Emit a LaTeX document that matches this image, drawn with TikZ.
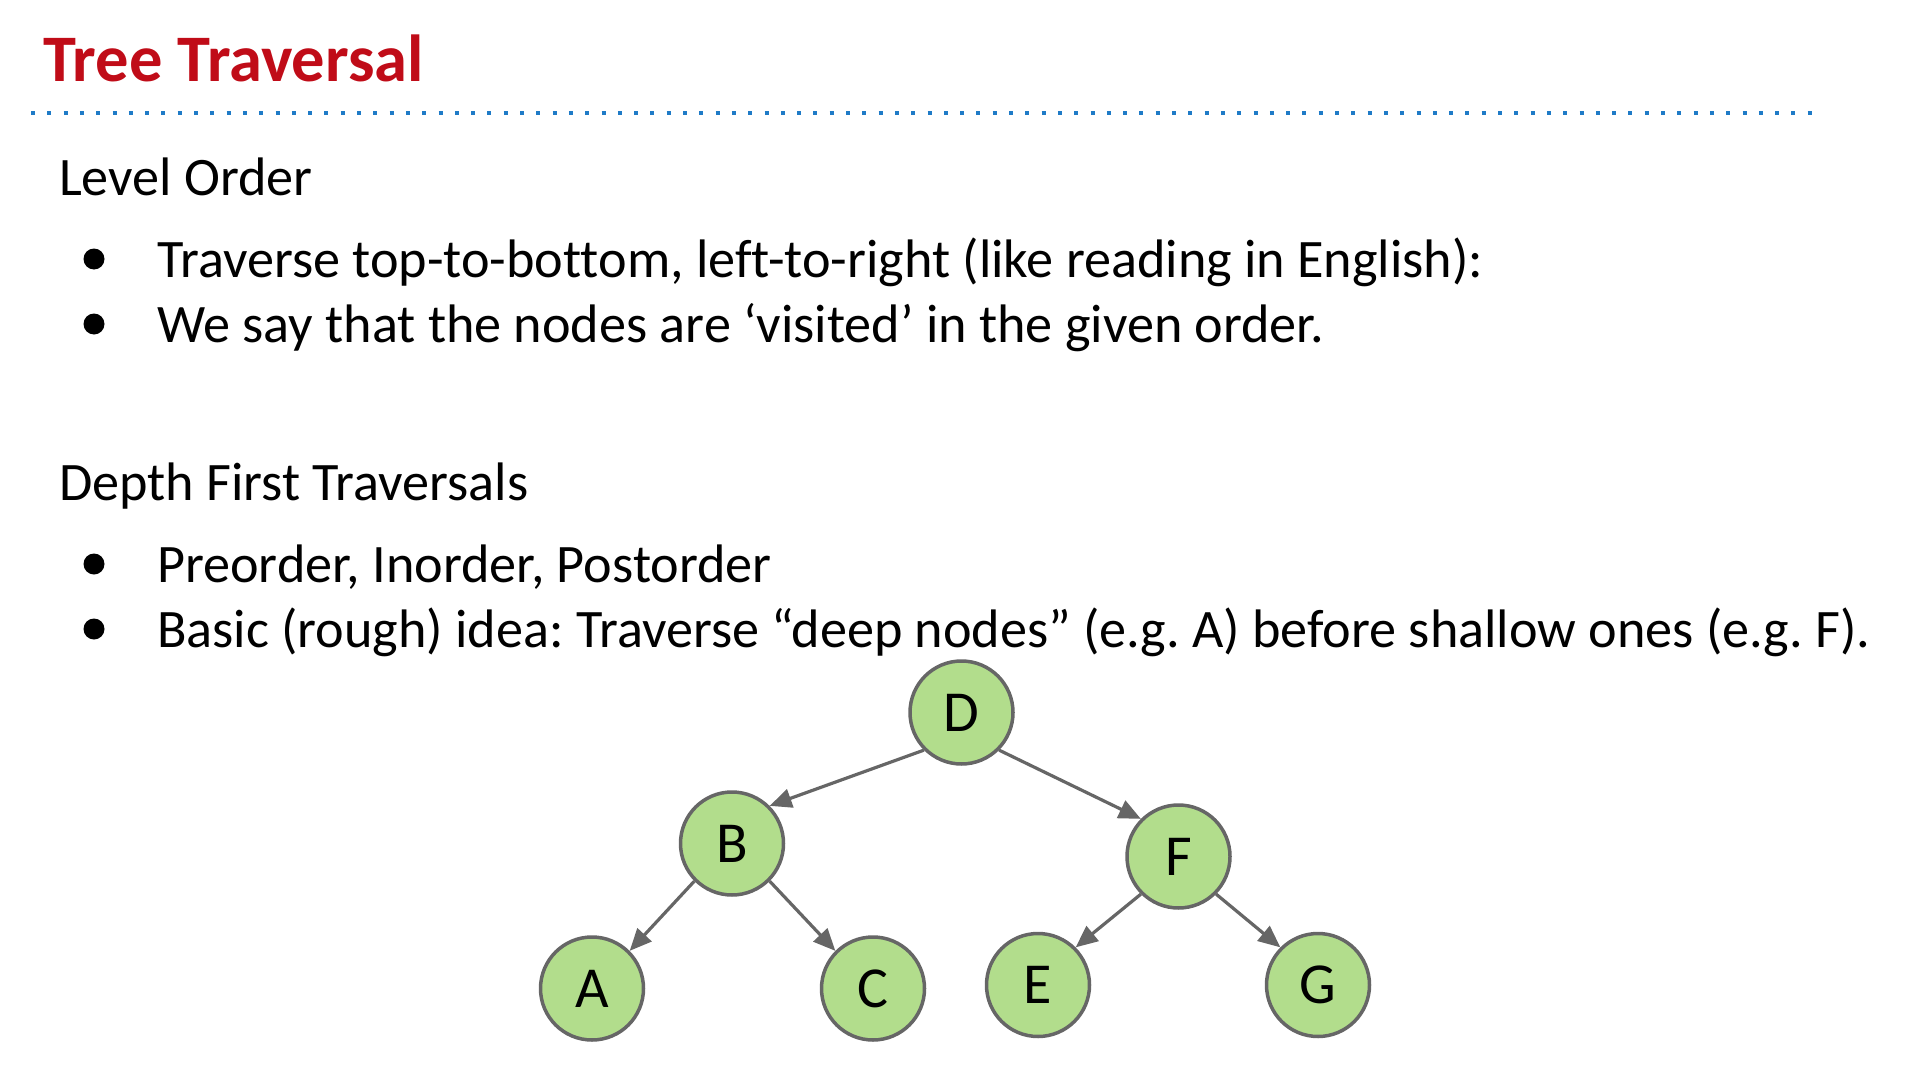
\documentclass[tikz,border=0pt]{standalone}
\usepackage{fontspec}
\setmainfont{Carlito}[Ligatures=NoCommon]
\usetikzlibrary{arrows.meta}
\definecolor{titlered}{RGB}{192,12,24}
\definecolor{dotblue}{RGB}{31,123,199}
\definecolor{nodegreen}{RGB}{178,221,140}
\definecolor{edgegray}{RGB}{102,102,102}
\frenchspacing
\begin{document}
\begin{tikzpicture}[x=1pt,y=-1pt,
  txt/.style={anchor=base west, inner sep=0pt, font=\fontsize{54.2}{64}\selectfont},
  tnode/.style={circle, draw=edgegray, line width=3.5pt, fill=nodegreen, minimum size=103pt, inner sep=0pt, font=\fontsize{58}{68}\selectfont},
  arr/.style={draw=edgegray, line width=3.2pt, -{Triangle[length=22pt,width=19pt]}},
  bul/.style={fill=black}]
\useasboundingbox (0,0) rectangle (1914,1070);
% title
\node[anchor=base west, inner sep=0pt, text=titlered, font=\fontsize{66.5}{78}\selectfont\bfseries] (title) at (43,82) {Tree Traversal};
\draw[dotblue, line width=4pt, dash pattern=on 4pt off 12.3pt] (31,113) -- (1814,113);
% level order
\node[txt] (lo) at (59,195) {Level Order};
\fill[bul] (94,259) circle (10.5);
\node[txt] (b1) at (157,277) {Traverse top-to-bottom, left-to-right (like reading in English):};
\fill[bul] (94,324) circle (10.5);
\node[txt] (b2) at (157,342) {We say that the nodes are ‘visited’ in the given order.};
% depth first
\node[txt] (df) at (59,500) {Depth First Traversals};
\fill[bul] (94,564) circle (10.5);
\node[txt] (b3) at (157,582) {Preorder, Inorder, Postorder};
\fill[bul] (94,629) circle (10.5);
\node[txt] (b4) at (157,647) {Basic (rough) idea: Traverse “deep nodes” (e.g. A) before shallow ones (e.g. F).};
% tree
\node[tnode] (D) at (961.5,712.5) {D};
\node[tnode] (B) at (732,843.5) {B};
\node[tnode] (F) at (1178.5,856.5) {F};
\node[tnode] (A) at (592,988.5) {A};
\node[tnode] (C) at (873,988.5) {C};
\node[tnode] (E) at (1038,985) {E};
\node[tnode] (G) at (1318,985) {G};
\draw[arr] (D.south west) -- (B.north east);
\draw[arr] (D.south east) -- (F.north west);
\draw[arr] (B.south west) -- (A.north east);
\draw[arr] (B.south east) -- (C.north west);
\draw[arr] (F.south west) -- (E.north east);
\draw[arr] (F.south east) -- (G.north west);
\end{tikzpicture}
\end{document}
